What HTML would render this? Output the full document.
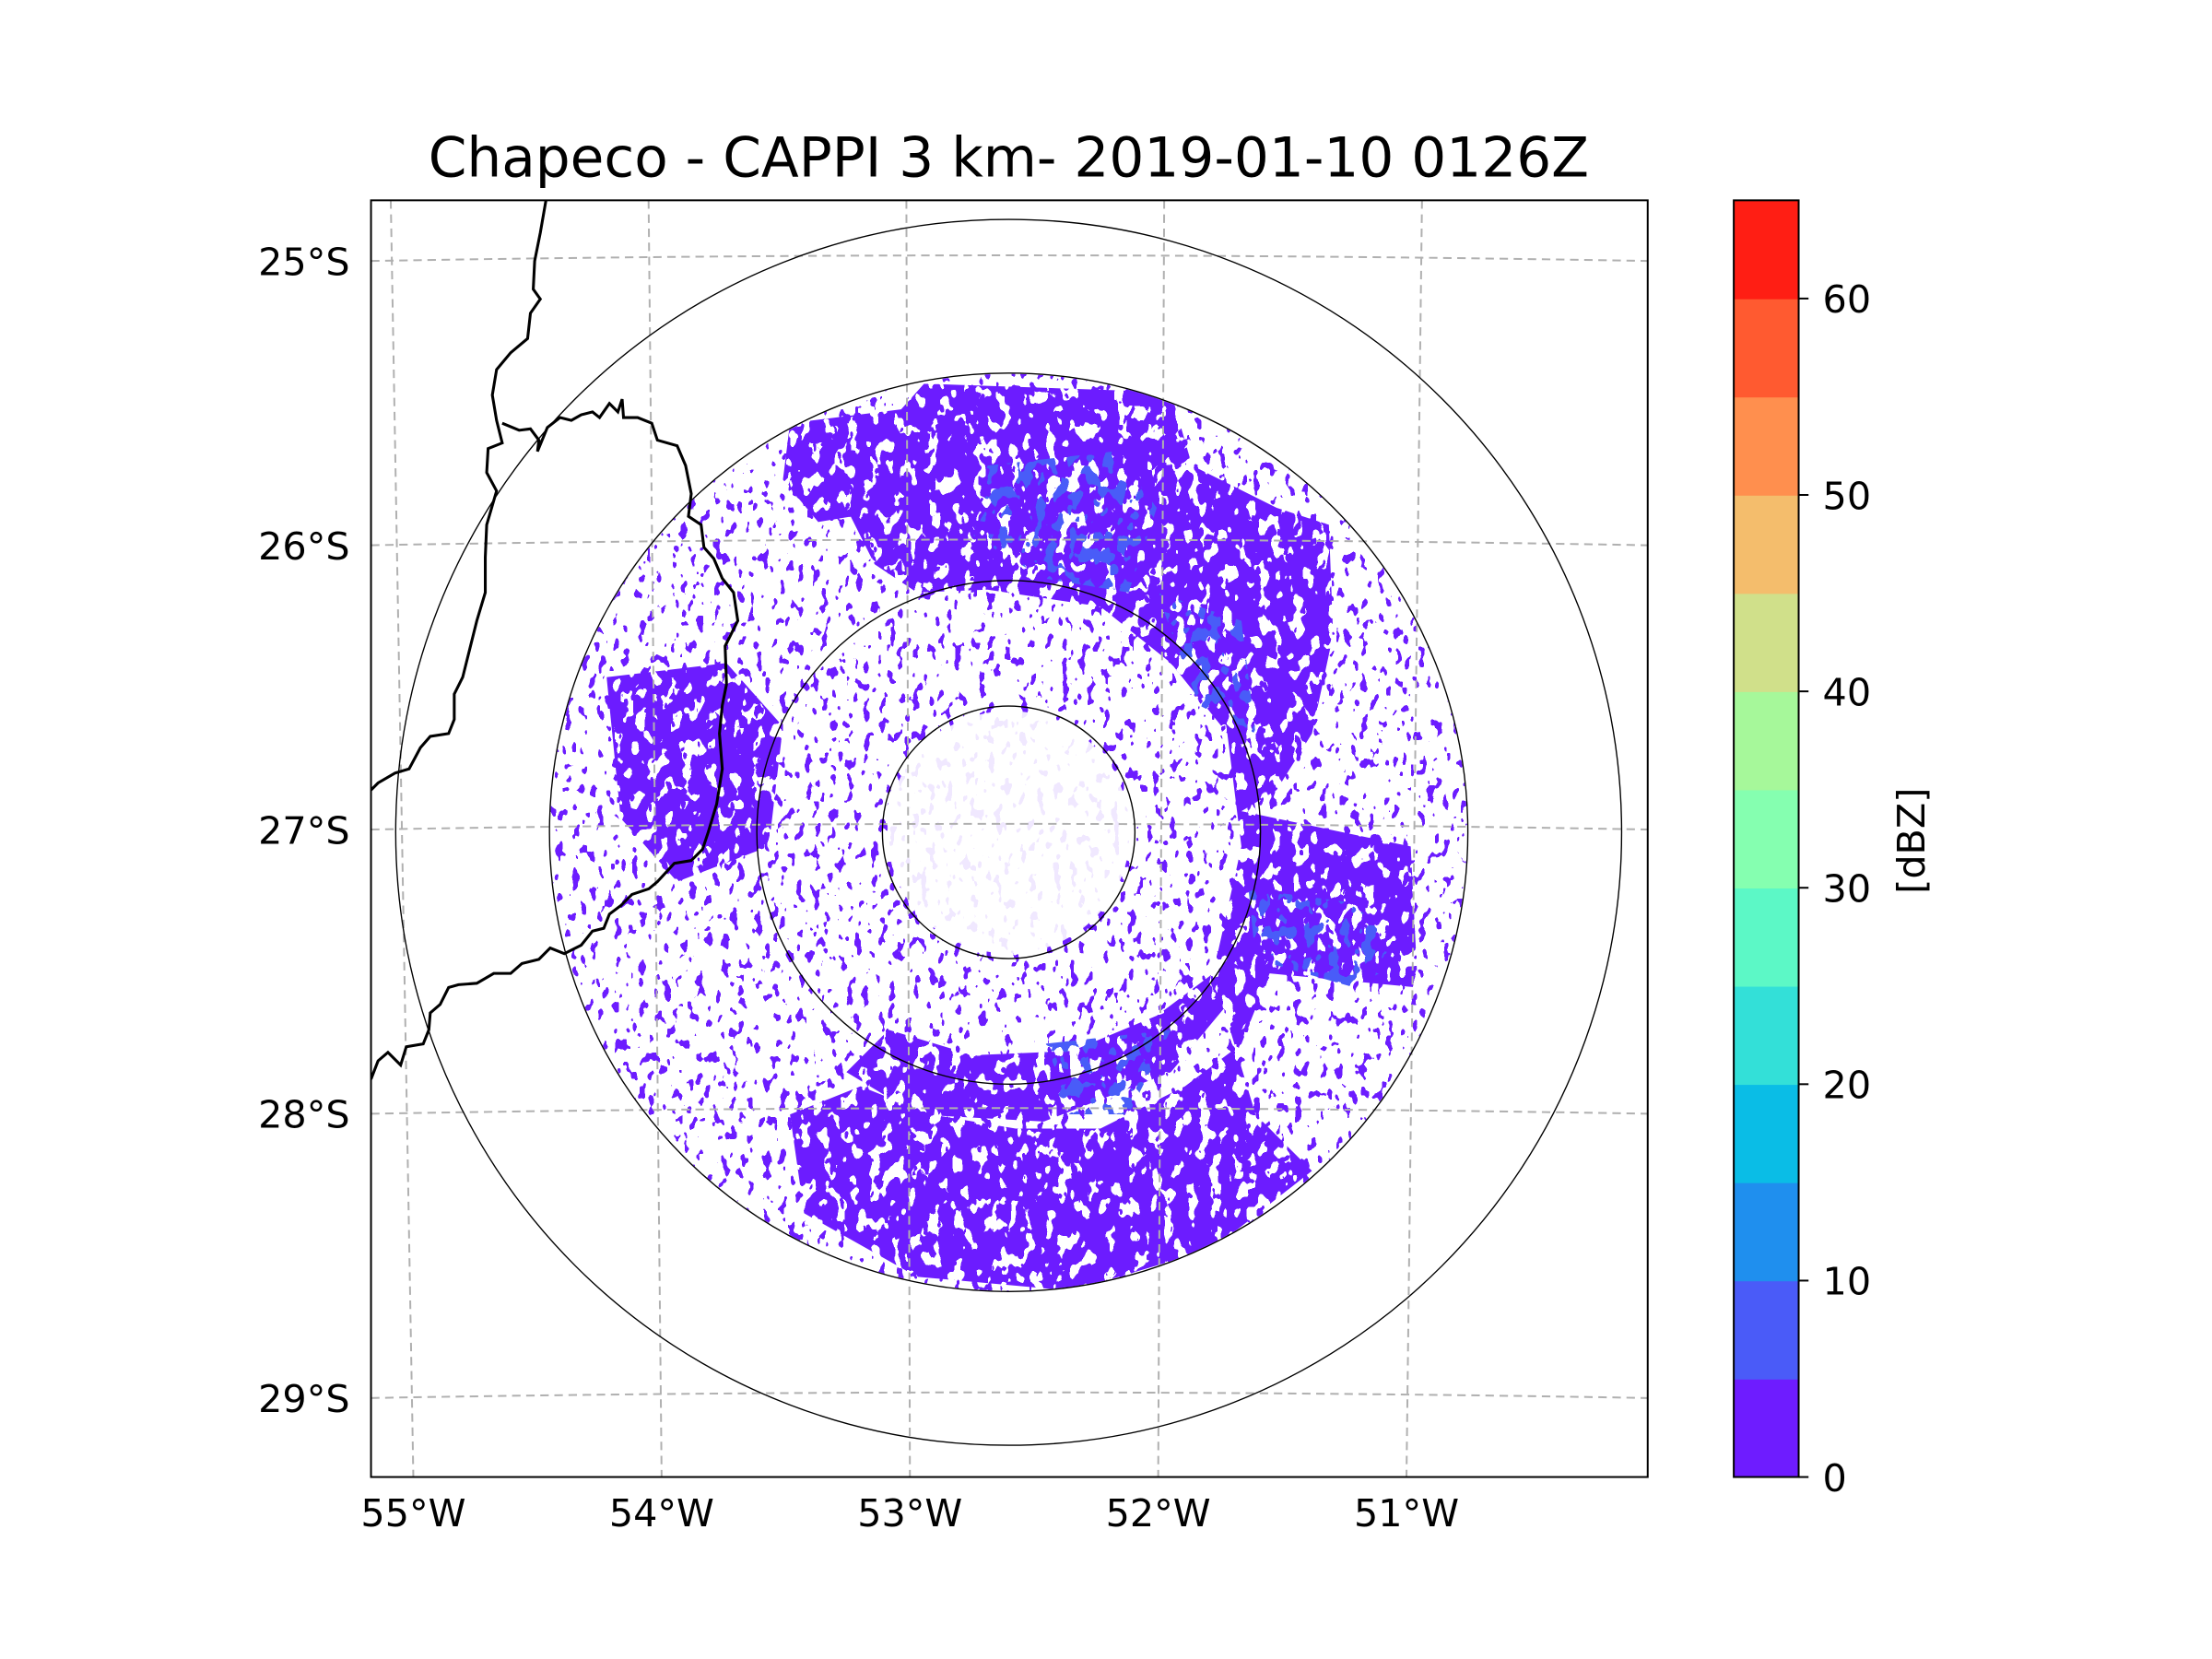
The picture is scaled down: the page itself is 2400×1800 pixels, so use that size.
<!DOCTYPE html>
<html><head><meta charset="utf-8"><style>
html,body{margin:0;padding:0;background:#fff;width:2400px;height:1800px;overflow:hidden}
svg{display:block}
text{font-family:"DejaVu Sans","Liberation Sans",sans-serif;fill:#000}
</style></head><body>
<svg id="fig" width="2400" height="1800" viewBox="0 0 1568 1176" xmlns="http://www.w3.org/2000/svg">
<defs>
<clipPath id="axclip"><rect x="263" y="142" width="905" height="905"/></clipPath>
<clipPath id="disc"><circle cx="715" cy="590" r="325"/></clipPath>
<clipPath id="dense">
 <path d="M655,272 L830,278 L845,330 L905,360 L942,372 L945,450 L930,520 L905,560 L880,575 L1000,600 L1005,700 L900,690 L880,740 L840,770 L780,800 L720,800 L660,790 L610,770 L560,790 L570,860 L650,905 L760,915 L860,885 L930,830 L890,790 L860,690 L880,600 L870,520 L830,470 L780,430 L700,418 L650,420 L620,400 L600,360 L630,300 Z"/>
 <path d="M430,480 L515,470 L555,515 L545,600 L480,625 L440,580 Z"/>
 <path d="M560,300 L640,290 L640,360 L580,370 L555,340 Z"/>
 <path d="M780,430 L850,470 L890,540 L880,600 L860,690 L820,720 L760,745 L690,748 L630,730 L600,760 L650,790 L740,795 L830,760 L880,700 L895,600 L880,520 L840,460 Z"/>
</clipPath>
<clipPath id="blue">
 <path d="M885,630 L960,640 L995,680 L960,700 L890,680 Z"/>
 <path d="M700,330 L790,320 L820,360 L800,420 L740,410 L690,380 Z"/>
 <path d="M820,420 L880,440 L890,520 L850,500 Z"/>
 <path d="M740,740 L830,730 L800,790 L750,790 Z"/>
</clipPath>
<filter id="noiseDense" x="263" y="142" width="905" height="905" filterUnits="userSpaceOnUse">
 <feTurbulence type="fractalNoise" baseFrequency="0.12 0.08" numOctaves="2" seed="4" result="n"/>
 <feColorMatrix in="n" type="matrix" values="0 0 0 0 0  0 0 0 0 0  0 0 0 0 0  9 0 0 0 -3.3" result="a"/>
 <feComponentTransfer in="a" result="b"><feFuncA type="discrete" tableValues="0 1"/></feComponentTransfer>
 <feFlood flood-color="#6c1eff"/>
 <feComposite operator="in" in2="b"/>
</filter>
<filter id="noiseSparse" x="263" y="142" width="905" height="905" filterUnits="userSpaceOnUse">
 <feTurbulence type="fractalNoise" baseFrequency="0.17 0.11" numOctaves="2" seed="9" result="n"/>
 <feColorMatrix in="n" type="matrix" values="0 0 0 0 0  0 0 0 0 0  0 0 0 0 0  9 0 0 0 -5.2" result="a"/>
 <feComponentTransfer in="a" result="b"><feFuncA type="discrete" tableValues="0 1"/></feComponentTransfer>
 <feFlood flood-color="#6c1eff"/>
 <feComposite operator="in" in2="b"/>
</filter>
<filter id="noiseBlue" x="263" y="142" width="905" height="905" filterUnits="userSpaceOnUse">
 <feTurbulence type="fractalNoise" baseFrequency="0.12 0.09" numOctaves="2" seed="2" result="n"/>
 <feColorMatrix in="n" type="matrix" values="0 0 0 0 0  0 0 0 0 0  0 0 0 0 0  9 0 0 0 -4.6" result="a"/>
 <feComponentTransfer in="a" result="b"><feFuncA type="discrete" tableValues="0 1"/></feComponentTransfer>
 <feFlood flood-color="#4a5cf8"/>
 <feComposite operator="in" in2="b"/>
</filter>
</defs>

<text x="715" y="125" text-anchor="middle" font-size="39">Chapeco - CAPPI 3 km- 2019-01-10 0126Z</text>

<g id="map" clip-path="url(#axclip)">
 <g>
  <g clip-path="url(#disc)"><rect x="263" y="142" width="905" height="905" filter="url(#noiseSparse)"/></g>
  <g clip-path="url(#disc)"><g clip-path="url(#dense)"><rect x="263" y="142" width="905" height="905" filter="url(#noiseDense)"/></g></g>
  <g clip-path="url(#disc)"><g clip-path="url(#blue)"><rect x="263" y="142" width="905" height="905" filter="url(#noiseBlue)"/></g></g>
  <circle cx="715" cy="590" r="86" fill="#fff" opacity="0.9"/>
 </g>
 <g id="grid"></g>
 <g fill="none" stroke="#000" stroke-width="0.9">
  <circle cx="715" cy="590" r="89.5"/>
  <circle cx="715" cy="590" r="178.5"/>
  <circle cx="715" cy="590" r="325.5"/>
  <circle cx="715" cy="590" r="434.5"/>
 </g>
 <g fill="none" stroke="#000" stroke-width="2">
  <path d="M387,142 L383,165 L379,185 L378,205 L383,212 L376,222 L374,240 L362,250 L352,262 L349,280 L352,298 L356,314 L346,318 L345,335 L352,348 L345,372 L344,395 L344,420 L338,440 L333,460 L328,480 L322,492 L322,510 L318,520 L305,522 L298,530 L290,545 L280,548 L268,555 L263,560"/>
  <path d="M356,300 L368,305 L376,304 L382,312 L381,320 L388,303 L397,296 L405,298 L412,294 L420,292 L425,296 L432,286 L438,292 L441,283 L442,296 L452,296 L462,300 L466,312 L480,316 L486,330 L490,350 L488,366 L497,372 L499,388 L506,396 L512,410 L520,420 L523,440 L514,458 L515,485 L512,500 L510,520 L512,545 L508,570 L502,590 L498,602 L490,610 L478,612 L466,625 L460,630 L448,634 L440,642 L432,648 L428,658 L420,660 L412,670 L400,676 L390,672 L382,680 L370,683 L362,690 L350,690 L338,697 L325,698 L318,700 L312,712 L305,718 L304,730 L300,740 L288,742 L284,755 L275,746 L268,752 L263,765"/>
 </g>
</g>
<rect x="263" y="142" width="905" height="905" fill="none" stroke="#000" stroke-width="1.3"/>
<g id="axlabels"></g>

<g id="cbar"></g>
<text transform="translate(1364,596) rotate(-90)" text-anchor="middle" font-size="27">[dBZ]</text>
</svg>
<script>
const NS="http://www.w3.org/2000/svg";
const lonTicks=[55,54,53,52,51];
const lonLabels=["55°W","54°W","53°W","52°W","51°W"];
const latTicks=[25,26,27,28,29];
const latLabels=["25°S","26°S","27°S","28°S","29°S"];
const cbLevels=[0,5,10,15,20,25,30,35,40,45,50,55,60,65];
const cbColors=["#6e1cff","#4a5bf8","#1f8fee","#0abde6","#33e0d8","#5cf8c6","#85ffb0","#a6f89a","#d0e08a","#f4bd6c","#ff8f4e","#ff5a30","#ff1e14"];
const cbTicks=[0,10,20,30,40,50,60];

function xTop(lon){return 277+(55-lon)*182.75;}
function xBot(lon){return 293+(55-lon)*176;}
function yEdge(lat){return 185+(lat-25)*201.5;}
function cbY(v){return 1047-v/65*905;}
function mk(tag,attrs,parent){const e=document.createElementNS(NS,tag);for(const k in attrs)e.setAttribute(k,attrs[k]);parent.appendChild(e);return e;}

const grid=document.getElementById('grid');
const labs=document.getElementById('axlabels');
lonTicks.forEach((lon,i)=>{
  const l=mk('line',{x1:xTop(lon),y1:142,x2:xBot(lon),y2:1047,stroke:'#b0b0b0','stroke-width':1.3,'stroke-dasharray':'6,4'},grid);
  
  
  const t=mk('text',{x:xBot(lon),y:1082,'text-anchor':'middle','font-size':27},labs);
  t.textContent=lonLabels[i];
  
  
});
latTicks.forEach((lat,i)=>{
  const y=yEdge(lat);
  const p=mk('path',{d:`M263,${y} Q715,${y-8} 1168,${y}`,fill:'none',stroke:'#b0b0b0','stroke-width':1.3,'stroke-dasharray':'6,4'},grid);
  
  
  const t=mk('text',{x:248,y:y+10,'text-anchor':'end','font-size':27},labs);
  t.textContent=latLabels[i];
  
  
});

const cb=document.getElementById('cbar');
cbColors.forEach((c,i)=>{
  const y1=cbY(cbLevels[i+1]),y0=cbY(cbLevels[i]);
  const r=mk('rect',{x:1229,y:y1,width:46,height:y0-y1+0.5,fill:c},cb);
  
  
});
mk('rect',{x:1229,y:142,width:46,height:905,fill:'none',stroke:'#000','stroke-width':1.3},cb);
cbTicks.forEach(v=>{
  const y=cbY(v);
  mk('line',{x1:1275,y1:y,x2:1282,y2:y,stroke:'#000','stroke-width':1.3},cb);
  const t=mk('text',{x:1292,y:y+10,'font-size':27},cb);
  t.textContent=String(v);
  
  
});
</script>
</body></html>
